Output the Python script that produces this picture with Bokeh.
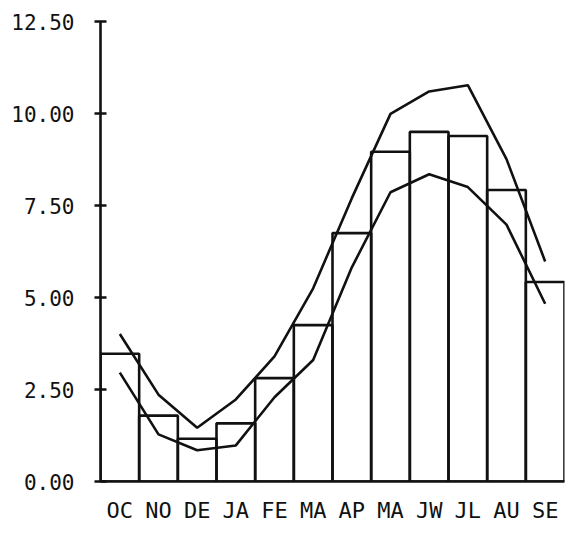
from bokeh.plotting import figure
from bokeh.models import FixedTicker, Range1d, ColumnDataSource
from bokeh.embed import file_html
from bokeh.resources import INLINE

months = ["OC", "NO", "DE", "JA", "FE", "MA", "AP", "MA", "JW", "JL", "AU", "SE"]
bars = [3.47, 1.79, 1.16, 1.58, 2.81, 4.25, 6.75, 8.96, 9.50, 9.39, 7.92, 5.42]
upper = [4.01, 2.36, 1.46, 2.23, 3.40, 5.25, 7.70, 9.99, 10.60, 10.77, 8.76, 5.98]
lower = [2.96, 1.28, 0.85, 0.98, 2.29, 3.30, 5.82, 7.86, 8.35, 8.00, 6.98, 4.83]
yticks = [0, 2.5, 5, 7.5, 10, 12.5]

idx = list(range(len(months)))
centers = [i + 0.5 for i in idx]

p = figure(width=573, height=533, frame_width=464, frame_height=460,
           min_border_left=100, min_border_right=9, min_border_top=21, min_border_bottom=52,
           x_range=Range1d(0, 12), y_range=Range1d(0, 12.5),
           output_backend="svg", toolbar_location=None)
p.outline_line_color = None
p.xgrid.visible = False
p.ygrid.visible = False

src = ColumnDataSource(dict(x=centers, top=bars, up=upper, lo=lower))
p.vbar(x="x", top="top", bottom=0, width=1.0, source=src,
       fill_color="white", fill_alpha=0, line_color="#111111", line_width=2.6)
p.line("x", "up", source=src, line_color="#111111", line_width=2.6)
p.line("x", "lo", source=src, line_color="#111111", line_width=2.6)

font = "DejaVu Sans Mono"
p.yaxis.ticker = FixedTicker(ticks=yticks)
p.yaxis.major_label_overrides = {t: f"{t:.2f}" for t in yticks}
p.yaxis.minor_tick_line_color = None
p.yaxis.major_tick_in = 6
p.yaxis.major_tick_out = 6
p.yaxis.major_tick_line_width = 2.5
p.yaxis.axis_line_width = 2.6
p.yaxis.axis_line_color = "#111111"
p.yaxis.major_tick_line_color = "#111111"
p.yaxis.major_label_text_font = font
p.yaxis.major_label_text_font_size = "21px"
p.yaxis.major_label_text_color = "#111111"
p.yaxis.major_label_standoff = 20

p.xaxis.ticker = FixedTicker(ticks=centers)
p.xaxis.major_label_overrides = {c: m for c, m in zip(centers, months)}
p.xaxis.minor_tick_line_color = None
p.xaxis.major_tick_line_color = None
p.xaxis.axis_line_width = 2.6
p.xaxis.axis_line_color = "#111111"
p.xaxis.major_label_text_font = font
p.xaxis.major_label_text_font_size = "22px"
p.xaxis.major_label_text_color = "#111111"
p.xaxis.major_label_standoff = 10

open("out.html", "w").write(file_html(p, INLINE))
